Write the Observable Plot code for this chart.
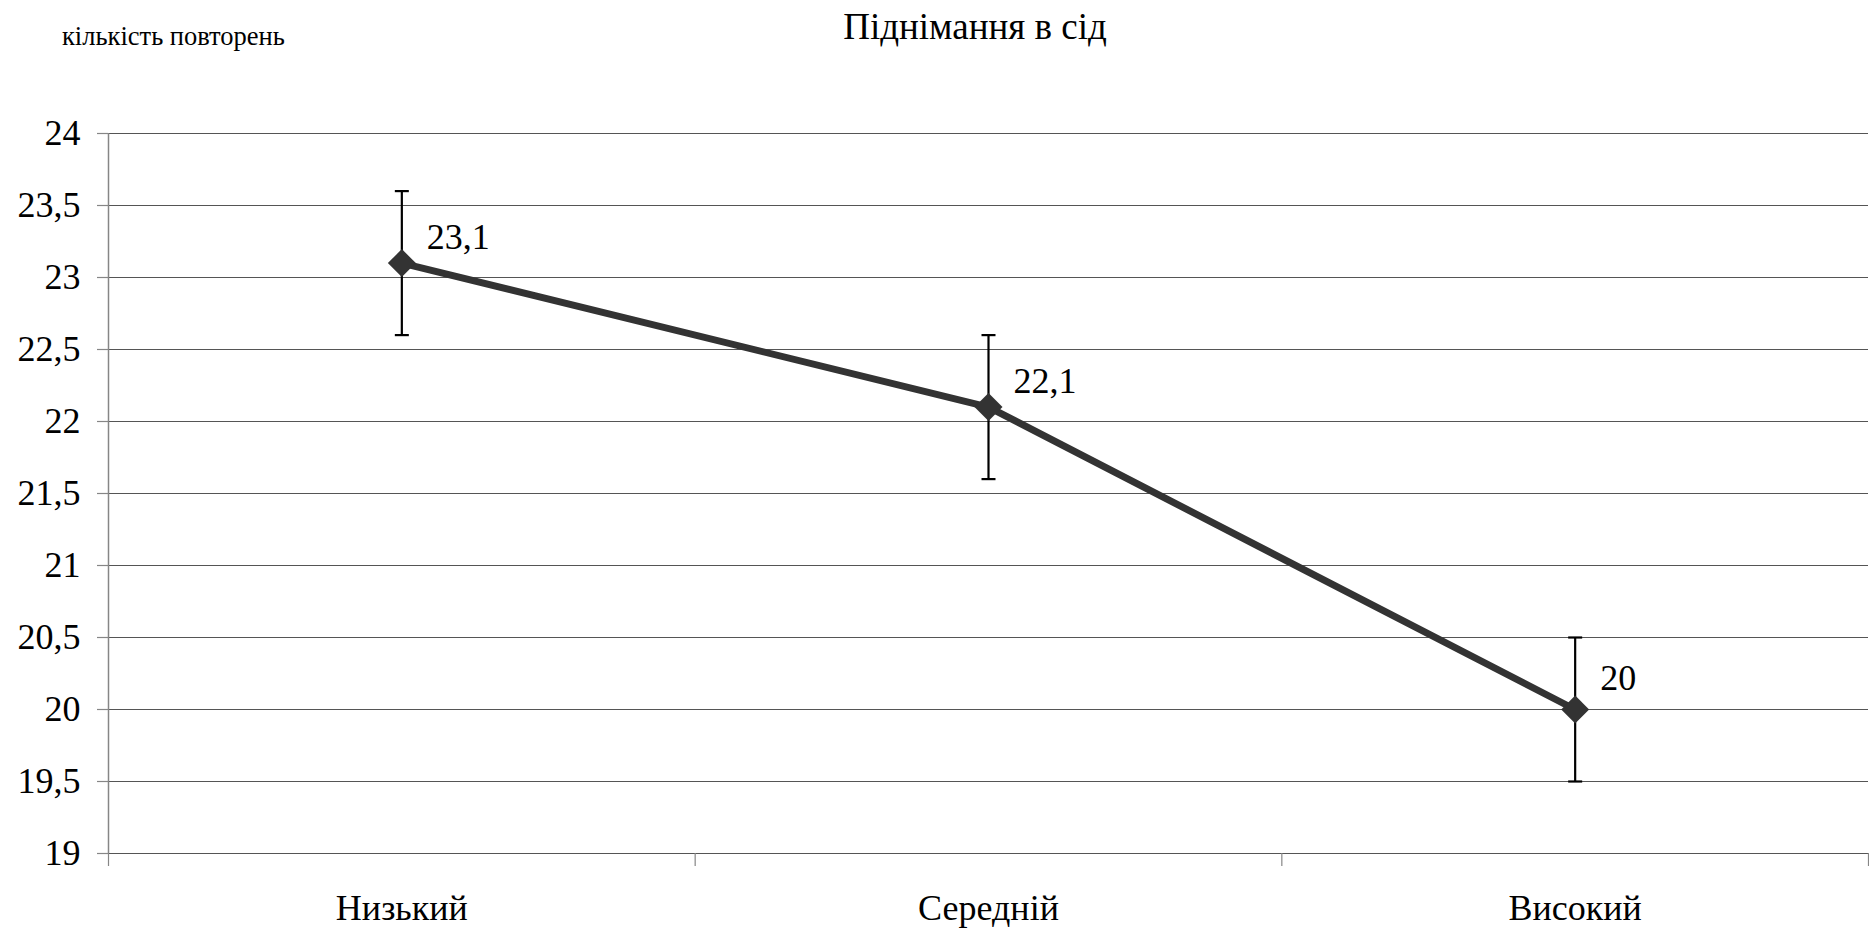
<!DOCTYPE html>
<html><head><meta charset="utf-8">
<script src="https://cdn.jsdelivr.net/npm/d3@7"></script>
<script src="https://cdn.jsdelivr.net/npm/@observablehq/plot@0.6"></script>
<style>
body{margin:0;background:#fff;font-family:"Liberation Serif","Times New Roman",serif;color:#000;}
#wrap{position:relative;width:1869px;height:931px;overflow:hidden;}
#title{position:absolute;top:8px;left:975px;transform:translateX(-50%);font-size:37px;line-height:37px;white-space:nowrap;}
#ylabel{position:absolute;top:23px;left:62px;font-size:26.5px;line-height:26.5px;white-space:nowrap;}
#chart{position:absolute;left:0;top:0;}
#chart svg text{font-family:"Liberation Serif","Times New Roman",serif;}
</style></head><body>
<div id="wrap"><div id="chart"></div><div id="title">Піднімання в сід</div><div id="ylabel">кількість повторень</div></div>
<script>
const categories = ["Низький", "Середній", "Високий"];
const means = [23.1, 22.1, 20];
const errors = [0.5, 0.5, 0.5];
const yTicks = [19, 19.5, 20, 20.5, 21, 21.5, 22, 22.5, 23, 23.5, 24];

const data = categories.map((c, i) => ({cat: c, pos: i + 0.5, mean: means[i], lo: means[i] - errors[i], hi: means[i] + errors[i]}));
const boundaries = d3.range(categories.length + 1);
const centers = categories.map((c, i) => i + 0.5);
const fmt = d => String(d).replace(".", ",");
const capSymbol = {draw(ctx, size) { const r = Math.sqrt(size / Math.PI); ctx.moveTo(-r, 0); ctx.lineTo(r, 0); }};
const grey = "#868686";
const serif = "Liberation Serif";
const labelStyle = {x: "pos", y: "mean", text: d => fmt(d.mean), textAnchor: "start", dx: 25, fill: "#000", fontSize: 36, fontFamily: serif};

const chart = Plot.plot({
  width: 1869, height: 931,
  marginTop: 133, marginBottom: 78, marginLeft: 108, marginRight: 1,
  style: {fontFamily: serif, fontSize: "36px", color: "#000", background: "#fff"},
  x: {type: "linear", domain: [0, categories.length], label: null},
  y: {domain: [19, 24], label: null},
  marks: [
    Plot.gridY(yTicks, {stroke: "#555", strokeOpacity: 1, strokeWidth: 1}),
    Plot.ruleX([0], {stroke: grey, strokeWidth: 1.5}),
    Plot.axisY(yTicks, {label: null, tickSize: 11, tickPadding: 17, tickFormat: fmt, stroke: grey, strokeWidth: 1.2, fill: "#000", fontSize: 36, fontFamily: serif}),
    Plot.axisX(boundaries, {label: null, tickSize: 13, tickFormat: () => "", stroke: grey, strokeWidth: 1.2}),
    Plot.axisX(centers, {label: null, tickSize: 0, tickPadding: 41, tickFormat: d => categories[Math.floor(d)], fill: "#000", fontSize: 36, fontFamily: serif}),
    Plot.ruleX(data, {x: "pos", y1: "lo", y2: "hi", stroke: "#000", strokeWidth: 2.2}),
    Plot.dot(data, {x: "pos", y: "lo", symbol: capSymbol, r: 7, stroke: "#000", strokeWidth: 2.2}),
    Plot.dot(data, {x: "pos", y: "hi", symbol: capSymbol, r: 7, stroke: "#000", strokeWidth: 2.2}),
    Plot.line(data, {x: "pos", y: "mean", stroke: "#333333", strokeWidth: 7}),
    Plot.dot(data, {x: "pos", y: "mean", symbol: "diamond2", r: 12.6, fill: "#333333", stroke: "none"}),
    Plot.text(data.slice(0, 2), {...labelStyle, dy: -26}),
    Plot.text(data.slice(2), {...labelStyle, dy: -31})
  ]
});
document.getElementById("chart").appendChild(chart);
</script>
</body></html>
